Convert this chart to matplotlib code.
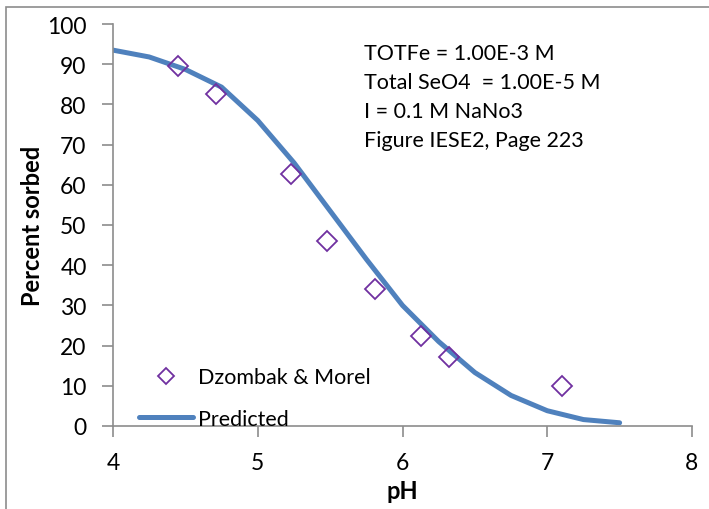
import matplotlib
matplotlib.use("Agg")
import matplotlib.pyplot as plt
from matplotlib.patches import Rectangle

plt.rcParams['font.family'] = ['Lato', 'DejaVu Sans']

# measured data (Dzombak & Morel)
ph_obs = [4.45, 4.71, 5.23, 5.48, 5.81, 6.13, 6.32, 7.10]
sorbed_obs = [89.5, 82.5, 62.7, 45.9, 34.1, 22.3, 17.1, 9.9]

# model prediction
ph_pred = [4.0, 4.25, 4.5, 4.75, 5.0, 5.25, 5.5, 5.75, 6.0, 6.25, 6.5, 6.75, 7.0, 7.25, 7.5]
sorbed_pred = [93.5, 91.8, 88.7, 84.3, 76.0, 65.5, 53.5, 41.5, 30.0, 21.0, 13.3, 7.6, 3.8, 1.6, 0.8]

notes = ["TOTFe = 1.00E-3 M", "Total SeO4  = 1.00E-5 M",
         "I = 0.1 M NaNo3", "Figure IESE2, Page 223"]

fig = plt.figure(figsize=(7.09, 5.10), dpi=100)
fig.patches.append(Rectangle((6/709, -0.1), 1.2, 1 - 8/510 + 0.1,
                             transform=fig.transFigure, fill=False,
                             edgecolor='#8c8c8c', linewidth=1.2))
ax = fig.add_axes([113/709, 1 - 427/510, (692 - 113)/709, (427 - 25)/510])

ax.plot(ph_obs, sorbed_obs, linestyle='none', marker='D', markersize=10,
        markerfacecolor='none', markeredgecolor='#7030A0', markeredgewidth=1.3,
        label='Dzombak & Morel', zorder=3)
ax.plot(ph_pred, sorbed_pred, color='#4F81BD', linewidth=3.6,
        solid_capstyle='round', label='Predicted', zorder=2)

ax.set_xlim(4, 8)
ax.set_ylim(0, 100)
ax.set_xticks([4, 5, 6, 7, 8])
ax.set_yticks(range(0, 101, 10))
for s in ['top', 'right']:
    ax.spines[s].set_visible(False)
for s in ['left', 'bottom']:
    ax.spines[s].set_color('#8c8c8c')
    ax.spines[s].set_linewidth(1.2)
ax.tick_params(direction='out', length=8, width=1.2, color='#8c8c8c',
               labelsize=16.5, pad=11)

ax.set_xlabel('pH', fontsize=17, fontweight='bold', labelpad=4)
ax.set_ylabel('Percent sorbed', fontsize=17, fontweight='bold', labelpad=2)

for i, line in enumerate(notes):
    ax.text(364/709, 1 - (54 + 29*i)/510, line, transform=fig.transFigure,
            fontsize=15.5, va='center', ha='left')

leg = ax.legend(loc='lower left', bbox_to_anchor=(0.011, -0.055), frameon=False,
                fontsize=15.5, handlelength=2.5, handletextpad=0.25,
                labelspacing=1.0, markerscale=0.8)

fig.savefig('out.png', dpi=100)
